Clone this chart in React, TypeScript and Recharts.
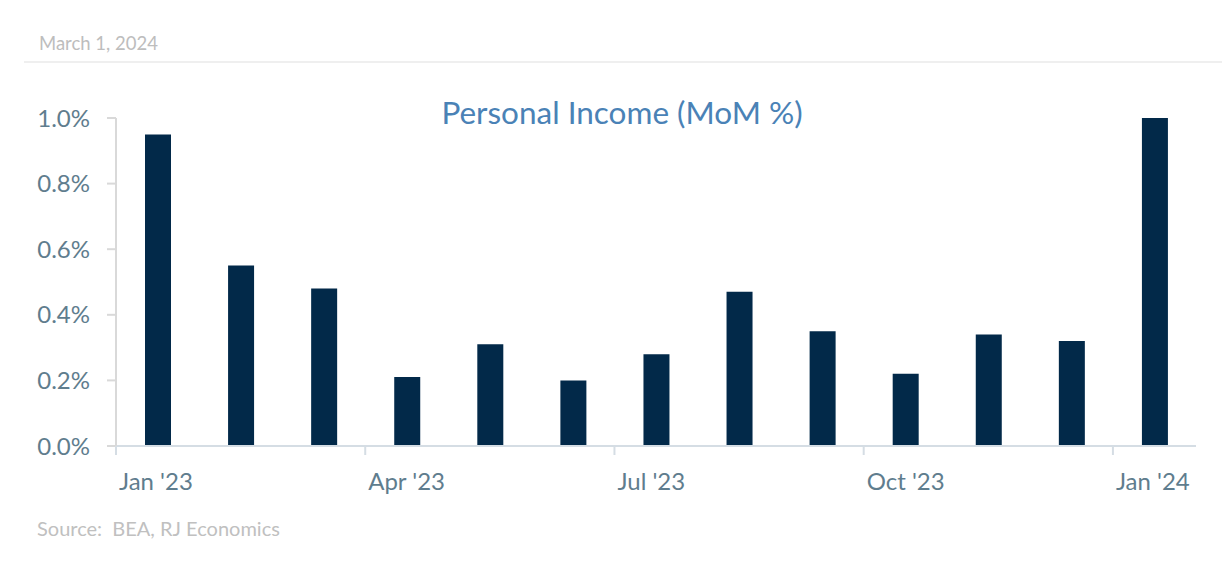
import React from "react";
import { BarChart, Bar, XAxis, YAxis } from "recharts";

const months = [
  "Jan '23", "Feb '23", "Mar '23", "Apr '23", "May '23", "Jun '23", "Jul '23",
  "Aug '23", "Sep '23", "Oct '23", "Nov '23", "Dec '23", "Jan '24",
];
const incomeMoM = [0.95, 0.55, 0.48, 0.21, 0.31, 0.2, 0.28, 0.47, 0.35, 0.22, 0.34, 0.32, 1.0];
const xTicks = [0, 3, 6, 9, 12];
const yTicks = [0, 0.2, 0.4, 0.6, 0.8, 1.0];

// bars sit in the middle of each month slot; ticks mark the slot start
const data = months.map((m, i) => ({ pos: i + 0.5, month: m, value: incomeMoM[i] }));

const FONT = "'Source Sans Pro', Lato, sans-serif";
const LABEL = "#5f7d8e";

const XTick = (props: any) => {
  const { x, y, payload } = props;
  return (
    <g>
      <line x1={x} x2={x} y1={y - 8} y2={y + 1} stroke="#d5dde4" strokeWidth={2} />
      <text x={x + 3} y={y + 36} fill={LABEL} fontSize={24} fontFamily={FONT} textAnchor="start">
        {months[payload.value]}
      </text>
    </g>
  );
};

const App = () => {
  return (
    <div style={{ position: "relative", width: 1230, height: 568, margin: -8, background: "#fff" }}>
      <svg width={1230} height={568} style={{ position: "absolute", left: 0, top: 0 }}>
        <text x={39} y={50} fill="#bdbdbd" fontSize={18.5} fontFamily={FONT}>
          March 1, 2024
        </text>
        <line x1={24} x2={1230} y1={62} y2={62} stroke="#efefef" strokeWidth={2} />
        <text x={622} y={124} fill="#4a82b6" fontSize={31.5} fontFamily={FONT} textAnchor="middle">
          Personal Income (MoM %)
        </text>
        <text x={37} y={536} fill="#c0c0c0" fontSize={20} fontFamily={FONT} xmlSpace="preserve">
          Source:  BEA, RJ Economics
        </text>
      </svg>
      <div style={{ position: "absolute", left: 0, top: 0 }}>
        <BarChart width={1230} height={568} data={data} margin={{ top: 118, right: 34, bottom: 82, left: 0 }}>
          <XAxis
            dataKey="pos"
            type="number"
            domain={[0, 13]}
            ticks={xTicks}
            interval={0}
            stroke="#d5dde4"
            strokeWidth={2}
            tickLine={false}
            tick={<XTick />}
            height={40}
          />
          <YAxis
            type="number"
            domain={[0, 1]}
            ticks={yTicks}
            width={116}
            stroke="#d9d9d9"
            strokeWidth={2}
            tickSize={9}
            tickMargin={17}
            tickFormatter={(v: number) => `${v.toFixed(1)}%`}
            tick={{ fill: LABEL, fontSize: 24, fontFamily: FONT }}
          />
          <Bar dataKey="value" fill="#022949" barSize={26} isAnimationActive={false} />
        </BarChart>
      </div>
    </div>
  );
};

export default App;
